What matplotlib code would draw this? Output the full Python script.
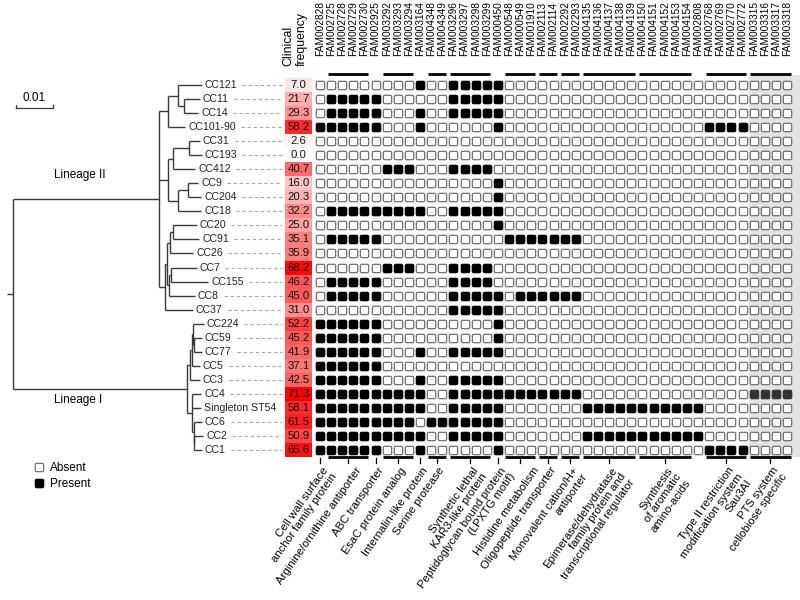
import numpy as np
import matplotlib
matplotlib.use("Agg")
import matplotlib.pyplot as plt
from matplotlib.path import Path
from matplotlib.colors import LinearSegmentedColormap
from matplotlib.lines import Line2D

plt.rcParams['font.family'] = ['Liberation Sans', 'DejaVu Sans']

# ---------------- data ----------------
strains = ["CC121", "CC11", "CC14", "CC101-90", "CC31", "CC193", "CC412", "CC9",
           "CC204", "CC18", "CC20", "CC91", "CC26", "CC7", "CC155", "CC8", "CC37",
           "CC224", "CC59", "CC77", "CC5", "CC3", "CC4", "Singleton ST54", "CC6",
           "CC2", "CC1"]

clinical_freq = [7.0, 21.7, 29.3, 58.2, 2.6, 0.0, 40.7, 16.0, 20.3, 32.2, 25.0, 35.1,
                 35.9, 68.2, 46.2, 45.0, 31.0, 52.2, 45.2, 41.9, 37.1, 42.5, 71.3,
                 58.1, 61.5, 50.9, 65.6]

fam_ids = ["FAM002828", "FAM002725", "FAM002728", "FAM002729", "FAM002730",
           "FAM002925", "FAM003292", "FAM003293", "FAM003294", "FAM003164",
           "FAM004348", "FAM004349", "FAM003296", "FAM003297", "FAM003298",
           "FAM003299", "FAM000450", "FAM000548", "FAM000549", "FAM001910",
           "FAM002113", "FAM002114", "FAM002292", "FAM002293", "FAM004135",
           "FAM004136", "FAM004137", "FAM004138", "FAM004139", "FAM004150",
           "FAM004151", "FAM004152", "FAM004153", "FAM004154", "FAM002808",
           "FAM002768", "FAM002769", "FAM002770", "FAM002772", "FAM003315",
           "FAM003316", "FAM003317", "FAM003318"]

# 1 = present, 0 = absent (spaces only separate functional groups)
presence = [
    "0 0000 0 000 1 00 1111 1 000 00 00 00000 00000 0 0000 0000",  # CC121
    "0 1111 1 000 0 00 1111 1 000 00 00 00000 00000 0 0000 0000",  # CC11
    "0 1111 1 000 1 00 1111 1 000 00 00 00000 00000 0 0000 0000",  # CC14
    "1 1111 1 000 1 00 0000 1 000 00 00 00000 00000 0 1111 0000",  # CC101-90
    "0 0000 0 000 0 00 0000 0 000 00 00 00000 00000 0 0000 0000",  # CC31
    "0 0000 0 000 0 00 0000 0 000 00 00 00000 00000 0 0000 0000",  # CC193
    "0 0000 0 111 0 00 1111 0 000 00 00 00000 00000 0 0000 0000",  # CC412
    "0 0000 0 000 0 00 0000 1 000 00 00 00000 00000 0 0000 0000",  # CC9
    "0 0000 0 000 0 00 0000 1 000 00 00 00000 00000 0 0000 0000",  # CC204
    "0 1111 1 111 1 00 1111 1 000 00 00 00000 00000 0 0000 0000",  # CC18
    "0 0000 0 000 0 00 0000 1 000 00 00 00000 00000 0 0000 0000",  # CC20
    "0 1111 1 000 0 00 0000 0 111 11 11 00000 00000 0 0000 0000",  # CC91
    "0 0000 0 000 0 00 0000 0 000 00 00 00000 00000 0 0000 0000",  # CC26
    "0 0000 0 111 0 00 1111 0 000 00 00 00000 00000 0 0000 0000",  # CC7
    "0 1111 1 000 0 00 1111 0 000 00 00 00000 00000 0 0000 0000",  # CC155
    "0 1111 1 000 0 00 1111 1 011 11 11 00000 00000 0 0000 0000",  # CC8
    "0 0000 0 000 0 00 1111 1 000 00 00 00000 00000 0 0000 0000",  # CC37
    "1 1111 1 000 0 00 0000 1 000 00 00 00000 00000 0 0000 0000",  # CC224
    "1 1111 1 000 0 00 0000 1 000 00 00 00000 00000 0 0000 0000",  # CC59
    "1 1111 1 000 1 00 1111 1 000 00 00 00000 00000 0 0000 0000",  # CC77
    "1 1111 1 000 0 00 0000 0 000 00 00 00000 00000 0 0000 0000",  # CC5
    "1 1111 1 000 1 00 1111 1 000 00 00 00000 00000 0 0000 0000",  # CC3
    "1 1111 1 111 1 00 1111 1 111 11 11 00000 00000 0 0000 1111",  # CC4
    "1 1111 1 111 1 00 1111 1 000 00 00 11111 11111 1 0000 0000",  # Singleton ST54
    "1 1111 1 111 0 11 1111 1 000 00 00 00000 00000 0 0000 0000",  # CC6
    "1 1111 1 111 1 00 1111 1 000 00 00 11111 11111 1 0000 0000",  # CC2
    "1 1111 1 000 1 00 0000 1 000 00 00 00000 00000 0 1111 0000",  # CC1
]

group_labels = ["Cell wall surface\nanchor family protein",
                "Arginine/ornithine antiporter",
                "ABC transporter",
                "EsaC protein analog",
                "Internalin-like protein",
                "Serine protease",
                "Synthetic lethal\nKAR3-like protein",
                "Peptidoglycan bound protein\n(LPXTG motif)",
                "Histidine metabolism",
                "Oligopeptide transporter",
                "Monovalent cation/H+\nantiporter",
                "Epimerase/dehydratase\nfamily protein and\ntranscriptional regulator",
                "Synthesis\nof aromatic\namino-acids",
                "Type II restriction\nmodification system\nSau3AI",
                "PTS system\ncellobiose specific"]
group_first = [0, 1, 5, 6, 9, 10, 12, 16, 17, 20, 22, 24, 29, 35, 39]
group_last = [0, 4, 5, 8, 9, 11, 15, 16, 19, 21, 23, 28, 33, 38, 42]

shaded_first_col = 39

tree_newick = (
    "((((CC121:0.0063,(CC11:0.0042,CC14:0.0038):0.0016):0.0029,CC101-90:0.0047):0.0023,"
    "(((CC31:0.0029,CC193:0.0034):0.0043,CC412:0.0059):0.0014,"
    "((CC9:0.0027,CC204:0.0036):0.0027,CC18:0.0063):0.0027):0.0024,"
    "((((CC20:0.0063,CC91:0.0070):0.0009,CC26:0.0063):0.0009,"
    "((CC7:0.0068,CC155:0.0099):0.0006,CC8:0.0069):0.0007):0.0005,CC37:0.0076):0.0015):0.0395,"
    "((((CC224:0.0029,(CC59:0.0022,CC77:0.0022):0.0002):0.0003,CC5:0.0022):0.0005,CC3:0.0027):0.0009,"
    "(CC4:0.0024,Singleton ST54:0.0024,(CC6:0.0021,(CC2:0.0024,CC1:0.0020):0.0001):0.0004):0.0016):0.0469);"
)
scale_bar_length = 0.01

# ---------------- figure ----------------
W, H = 800, 600
fig = plt.figure(figsize=(8, 6), dpi=100)

# geometry (pixels)
col0_px, col_step = 320.0, 11.12
row0_px, row_step = 85.0, 14.04
ylim = ((H - row0_px) / row_step, -row0_px / row_step)

ax = fig.add_axes([0, 0, 1, 1])
ax.set_xlim(-col0_px / col_step, (W - col0_px) / col_step)
ax.set_ylim(*ylim)
ax.axis('off')

nrows, ncols = len(strains), len(fam_ids)
mat = np.array([[int(ch) for ch in s.replace(" ", "")] for s in presence])

# grey shading for last block
ax.fill_between([shaded_first_col - 0.45, ncols + 1], -0.72, nrows - 0.5,
                color='#e3e3e3', lw=0, zorder=0)

# rounded square marker
r = 0.35
h = 1 - r
t = np.linspace(0, np.pi / 2, 8)
verts = []
for cx, cy, a in [(h, h, 0), (-h, h, np.pi / 2), (-h, -h, np.pi), (h, -h, 1.5 * np.pi)]:
    verts += list(zip(cx + r * np.cos(t + a), cy + r * np.sin(t + a)))
verts.append(verts[0])
rsq = Path(verts, closed=True)

rows_idx, cols_idx = np.nonzero(mat == 0)
ax.plot(cols_idx, rows_idx, ls='none', marker=rsq, ms=6.0, mfc='white',
        mec='#707070', mew=0.9, zorder=3)
rows_idx, cols_idx = np.nonzero(mat == 1)
fcol = np.where(cols_idx >= shaded_first_col, '#333333', 'black')
for c in ['black', '#333333']:
    m = fcol == c
    ax.plot(cols_idx[m], rows_idx[m], ls='none', marker=rsq, ms=6.0, mfc=c,
            mec=c, mew=0.9, zorder=3)

# clinical frequency column
cmap = LinearSegmentedColormap.from_list('wr', ['#ffffff', '#ff0000'])
fx0, fx1 = (285 - col0_px) / col_step, (312 - col0_px) / col_step
ax.pcolormesh([fx0, fx1], np.arange(nrows + 1) - 0.5,
              np.array(clinical_freq).reshape(-1, 1), cmap=cmap, vmin=0, vmax=70,
              zorder=1)
for i, v in enumerate(clinical_freq):
    ax.text((fx0 + fx1) / 2, i, f"{v:.1f}", ha='center', va='center',
            fontsize=8.2, color='#111111', zorder=4)
ax.text((fx0 + fx1) / 2 - 0.3, -1.35, "Clinical\nfrequency", rotation=90,
        ha='center', va='bottom', multialignment='left', fontsize=8.8)

# FAM headers
for j, f in enumerate(fam_ids):
    ax.text(j, -2.1, f, rotation=90, ha='center', va='bottom', fontsize=7.3)

# group bars, ticks and labels
label_nudge = {"Histidine metabolism": 1.0, "Arginine/ornithine antiporter": 0.5}
for lab, a, b in zip(group_labels, group_first, group_last):
    mid = (a + b) / 2
    if b > a:
        for yy in (-0.78, nrows - 0.5):
            ax.plot([a - 0.32, b + 0.32], [yy, yy], color='black', lw=2.0,
                    solid_capstyle='butt', zorder=5)
    ax.plot([mid, mid], [nrows - 0.45, nrows - 0.08], color='black', lw=0.9, zorder=5)
    ax.text(mid + 0.15 + label_nudge.get(lab, 0.0), nrows + 0.1, lab, rotation=55,
            rotation_mode='anchor', ha='right', va='top', multialignment='right',
            fontsize=8.2, linespacing=1.1)

# ---------------- tree ----------------
px_per_unit = 37 / 0.01
root_px = 13.0
tree_w_px = 284.0
ax_t = fig.add_axes([0, 0, tree_w_px / W, 1])
ax_t.set_xlim(-root_px / px_per_unit, (tree_w_px - root_px) / px_per_unit)
ax_t.set_ylim(*ylim)
ax_t.axis('off')
ax_t.patch.set_alpha(0)


def parse_newick(s):
    pos = 0

    def node():
        nonlocal pos
        children = []
        if s[pos] == '(':
            pos += 1
            children.append(node())
            while s[pos] == ',':
                pos += 1
                children.append(node())
            pos += 1
        start = pos
        while pos < len(s) and s[pos] not in ':,();':
            pos += 1
        name = s[start:pos].strip()
        length = 0.0
        if pos < len(s) and s[pos] == ':':
            pos += 1
            start = pos
            while s[pos] not in ',();':
                pos += 1
            length = float(s[start:pos])
        return {'name': name, 'len': length, 'children': children}

    return node()


tree = parse_newick(tree_newick)
line_kw = dict(color='#3a3a3a', lw=1.0, solid_capstyle='butt')
tip_pos = {}


def draw(node, x0):
    x = x0 + node['len']
    if not node['children']:
        y = strains.index(node['name'])
        tip_pos[node['name']] = (x, y)
    else:
        ys = [draw(c, x) for c in node['children']]
        y = (min(ys) + max(ys)) / 2
        ax_t.plot([x, x], [min(ys), max(ys)], **line_kw)
    if node['len'] > 0:
        ax_t.plot([x0, x], [y, y], **line_kw)
    return y


root_y = draw(tree, 0.0)
ax_t.plot([-6 / px_per_unit, 0], [root_y, root_y], **line_kw)

tip_texts = []
for name, (x, y) in tip_pos.items():
    tt = ax_t.annotate(name, (x, y), xytext=(2.2, 0), textcoords='offset points',
                       ha='left', va='center', fontsize=7.6, color='#222222')
    tip_texts.append((tt, y))

# lineage labels
ax_t.text(0.0180, 6.4, "Lineage II", ha='center', va='center', fontsize=8.5)
ax_t.text(0.0176, 22.45, "Lineage I", ha='center', va='center', fontsize=8.5)

# scale bar
sb_x0 = 3 / px_per_unit
ax_t.plot([sb_x0, sb_x0 + scale_bar_length], [1.64, 1.64], color='#3a3a3a', lw=0.9)
for xx in (sb_x0, sb_x0 + scale_bar_length):
    ax_t.plot([xx, xx], [1.64, 1.44], color='#3a3a3a', lw=0.9)
ax_t.text(sb_x0 + scale_bar_length / 2, 0.9, "0.01", ha='center', va='center',
          fontsize=8.5)

# dashed leaders from labels to frequency column
fig.canvas.draw()
rend = fig.canvas.get_renderer()
x_end = (282 - col0_px) / col_step
for tt, y in tip_texts:
    bb = tt.get_window_extent(rend)
    xs = ax.transData.inverted().transform((bb.x1 + 5, 0))[0]
    if xs < x_end:
        ax.plot([xs, x_end], [y, y], color='#a8a8a8', lw=0.8, ls=(0, (3, 2.5)),
                zorder=2)

# legend
handles = [Line2D([], [], ls='none', marker=rsq, ms=6.0, mfc='white', mec='#707070', mew=0.9),
           Line2D([], [], ls='none', marker=rsq, ms=6.0, mfc='black', mec='black', mew=0.9)]
fig.legend(handles, ["Absent", "Present"], loc='upper left',
           bbox_to_anchor=(28 / W, 1 - 456 / H), frameon=False, fontsize=8.5,
           handlelength=0.8, handletextpad=0.6, labelspacing=0.35, borderpad=0)

fig.savefig("out.png", dpi=100)
